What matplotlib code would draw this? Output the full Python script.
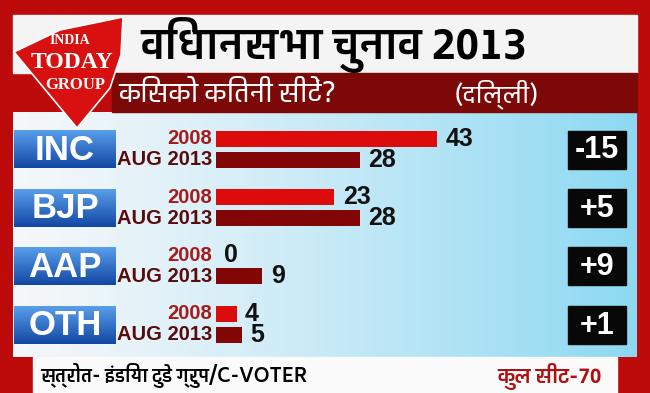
import matplotlib
matplotlib.use("Agg")
import matplotlib.pyplot as plt
from matplotlib import font_manager
from matplotlib.ft2font import FT2Font
from matplotlib.patches import Rectangle, Polygon
import numpy as np

# data
parties = ["INC", "BJP", "AAP", "OTH"]
seats_2008 = [43, 23, 0, 4]
seats_aug2013 = [28, 28, 9, 5]
year_labels = ["2008", "AUG 2013"]

title = "विधानसभा चुनाव 2013"
subtitle = "किसको कितनी सीटें?"
region = "(दिल्ली)"
source = "स्त्रोत- इंडिया टुडे ग्रुप/C-VOTER"
total = "कुल सीट-70"


def find_deva_font():
    # families that have Devanagari glyphs, bold-capable ones first
    fams = {}
    for f in font_manager.fontManager.ttflist:
        try:
            ft = FT2Font(f.fname)
            if ft.get_char_index(0x0915):
                w = f.weight if isinstance(f.weight, int) else 400
                fams[f.name] = max(fams.get(f.name, 0), w)
        except Exception:
            pass
    if not fams:
        return "DejaVu Sans"
    return sorted(fams, key=lambda n: (-fams[n], n))[0]


deva_family = find_deva_font()
deva = [deva_family, "DejaVu Sans"]
latin = "Liberation Sans"

W, H = 650, 393
fig = plt.figure(figsize=(6.5, 3.93), dpi=100)
bg = fig.add_axes([0, 0, 1, 1])
bg.set_xlim(0, W)
bg.set_ylim(H, 0)
bg.axis("off")

# red frame
bg.add_patch(Rectangle((0, 0), W, H, color="#bd0a0a", zorder=0))
# light panel gradient
grad = np.linspace(0, 1, 256)
cols = np.array([[0.96, 0.97, 0.98], [0.55, 0.85, 0.95]])
img = cols[0] + (cols[1] - cols[0]) * grad[:, None] ** 1.2
bg.imshow(img[None, :, :], extent=[13, 637, 357, 112], aspect="auto", zorder=1)
# title band
bg.add_patch(Rectangle((13, 15), 624, 58, color="#f4f4f4", zorder=2))
# subtitle band
bg.add_patch(Rectangle((112, 73), 525, 39, color="#7d0808", zorder=2))
# bottom strip
bg.add_patch(Rectangle((33, 357), 584, 36, color="#fbfbfb", zorder=2))

# logo
bg.add_patch(Polygon([(14, 52), (60, 30), (123, 17), (121, 55), (110, 88), (77, 128)],
                     closed=True, facecolor="#d81010", edgecolor="white", lw=1.2, zorder=3))
bg.text(70, 41, "INDIA", family="Liberation Serif", weight="bold", size=10, color="white",
        ha="center", va="center", zorder=4)
bg.text(72, 62, "TODAY", family="Liberation Serif", weight="bold", size=17, color="white",
        ha="center", va="center", zorder=4)
bg.text(75, 85, "GROUP", family="Liberation Serif", weight="bold", size=12, color="white",
        ha="center", va="center", zorder=4)

bg.text(140, 45, title, family=deva, weight="bold", size=31, color="black",
        ha="left", va="center", zorder=4)
bg.text(118, 94, subtitle, family=deva, size=19.5, color="white",
        ha="left", va="center", zorder=4)
bg.text(455, 94, region, family=deva, size=18, color="white",
        ha="left", va="center", zorder=4)
bg.text(40, 376, source, family=deva, weight="bold", size=13.5, color="black",
        ha="left", va="center", zorder=4)
bg.text(497, 376, total, family=deva, weight="bold", size=15, color="#b01010",
        ha="left", va="center", zorder=4)

# bars
ax = fig.add_axes([216 / W, 1 - 353.5 / H, 350 / W, 233.5 / H])
ax.patch.set_alpha(0)
ax.axis("off")
ax.set_xlim(0, 68)
ax.set_ylim(3.5, -0.5)
y = np.arange(len(parties))
off, bh = 0.18, 0.275
ax.barh(y - off, seats_2008, height=bh, color="#dc0c0c", lw=0)
ax.barh(y + off, seats_aug2013, height=bh, color="#820606", lw=0)

for i in range(len(parties)):
    for v, yy in [(seats_2008[i], y[i] - off), (seats_aug2013[i], y[i] + off)]:
        ax.annotate(str(v), (v, yy), xytext=(6, 0), textcoords="offset points",
                    ha="left", va="center", family=latin, weight="bold", size=18,
                    color="#111111")
    ax.annotate(year_labels[0], (0, y[i] - off), xytext=(-3, 0), textcoords="offset points",
                ha="right", va="center", family=latin, weight="bold", size=14.5,
                color="#a51c1c", annotation_clip=False)
    ax.annotate(year_labels[1], (0, y[i] + off), xytext=(-3, 0), textcoords="offset points",
                ha="right", va="center", family=latin, weight="bold", size=14.5,
                color="#5a0b0b", annotation_clip=False)

# party boxes and change boxes
for i, p in enumerate(parties):
    cy = 149.5 + i * 58.4
    box = np.linspace(0, 1, 64)[:, None]
    blue = np.array([0.35, 0.62, 0.92]) + (np.array([0.07, 0.28, 0.64]) - np.array([0.35, 0.62, 0.92])) * box
    bg.imshow(blue[:, None, :], extent=[14, 116, cy + 19, cy - 19], aspect="auto", zorder=3)
    bg.text(65, cy + 1, p, family=latin, weight="bold", size=25, color="white",
            ha="center", va="center", zorder=4)
    d = seats_aug2013[i] - seats_2008[i]
    bg.add_patch(Rectangle((568, cy - 19), 58, 38, color="#080808", zorder=3))
    bg.text(597, cy + 1, f"{d:+d}", family=latin, weight="bold", size=22, color="white",
            ha="center", va="center", zorder=4)

bg.set_xlim(0, W)
bg.set_ylim(H, 0)
fig.savefig("out.png", dpi=100)
